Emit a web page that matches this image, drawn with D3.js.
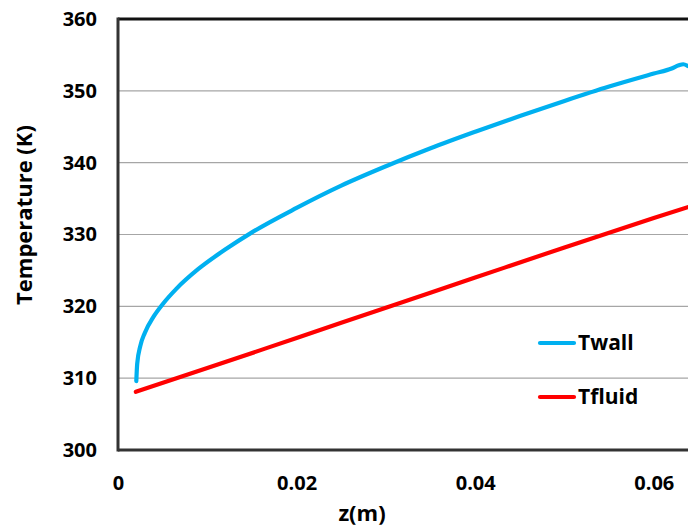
<!DOCTYPE html>
<html>
<head>
<meta charset="utf-8">
<script src="https://cdn.jsdelivr.net/npm/d3@7"></script>
<style>
  body { margin: 0; background: #fff; }
  svg text { font-family: "Open Sans", "Liberation Sans", sans-serif; font-weight: bold; fill: #000; }
</style>
</head>
<body>
<svg id="chart"></svg>
<script>
// values
const zWall = [0.00205, 0.00215, 0.0025, 0.003, 0.004, 0.005, 0.0065, 0.009, 0.012, 0.015, 0.02, 0.025, 0.03, 0.035, 0.04, 0.045, 0.05, 0.055, 0.06, 0.062, 0.0628, 0.0633, 0.0638];
const tWall = [309.6, 312.0, 314.5, 316.3, 318.6, 320.3, 322.4, 325.2, 327.9, 330.3, 333.7, 336.8, 339.5, 342.0, 344.3, 346.5, 348.6, 350.6, 352.4, 353.1, 353.55, 353.7, 353.45];
const zFluid = [0.002, 0.01, 0.02, 0.03, 0.04, 0.05, 0.06, 0.0638];
const tFluid = [308.1, 311.4, 315.6, 319.8, 324.0, 328.2, 332.3, 333.8];
const yTicks = [300, 310, 320, 330, 340, 350, 360];
const xTicks = [0, 0.02, 0.04, 0.06];
const seriesNames = ['Twall', 'Tfluid'];
const seriesColors = ['#00B0F0', '#FF0000'];

const width = 688, height = 529;
const margin = {top: 19, left: 118, bottom: 79};

const svg = d3.select('#chart')
    .attr('width', width)
    .attr('height', height);

// plot area runs past the right edge of the window, as in the original
const xScale = d3.scaleLinear().domain([0, 0.07]).range([margin.left, margin.left + 0.07 * 8930]);
const yScale = d3.scaleLinear().domain([300, 360]).range([height - margin.bottom, margin.top]);

// gridlines
svg.append('g')
  .selectAll('line')
  .data(yTicks.slice(1, -1))
  .join('line')
    .attr('x1', margin.left)
    .attr('x2', width)
    .attr('y1', d => yScale(d))
    .attr('y2', d => yScale(d))
    .attr('stroke', '#a6a6a6')
    .attr('stroke-width', 1.2);

// axes
const yAxis = d3.axisLeft(yScale).tickValues(yTicks).tickSize(0).tickPadding(21).tickFormat(d3.format('d'));
const xAxis = d3.axisBottom(xScale).tickValues(xTicks).tickSize(0).tickPadding(26).tickFormat(d => d === 0 ? '0' : d3.format('.2f')(d));

svg.append('g')
    .attr('transform', `translate(${margin.left},0)`)
    .call(yAxis)
    .call(g => g.select('.domain').remove())
    .selectAll('text')
    .style('font-size', '20px');

svg.append('g')
    .attr('transform', `translate(0,${yScale(300)})`)
    .call(xAxis)
    .call(g => g.select('.domain').remove())
    .selectAll('text')
    .style('font-size', '20px');

// plot border: top, left, bottom
svg.append('line')
    .attr('x1', margin.left).attr('x2', width)
    .attr('y1', yScale(360)).attr('y2', yScale(360))
    .attr('stroke', '#111').attr('stroke-width', 3);
svg.append('line')
    .attr('x1', margin.left).attr('x2', width)
    .attr('y1', yScale(300)).attr('y2', yScale(300))
    .attr('stroke', '#333').attr('stroke-width', 3);
svg.append('line')
    .attr('x1', margin.left).attr('x2', margin.left)
    .attr('y1', yScale(360) - 1.5).attr('y2', yScale(300) + 1.5)
    .attr('stroke', '#333').attr('stroke-width', 3);

// lines
const line = d3.line()
    .x(d => xScale(d[0]))
    .y(d => yScale(d[1]))
    .curve(d3.curveMonotoneX);

const series = [
  d3.zip(zWall, tWall),
  d3.zip(zFluid, tFluid)
];

svg.append('g')
  .selectAll('path')
  .data(series)
  .join('path')
    .attr('d', line)
    .attr('fill', 'none')
    .attr('stroke', (d, i) => seriesColors[i])
    .attr('stroke-width', 4.2)
    .attr('stroke-linecap', 'round')
    .attr('stroke-linejoin', 'round');

// axis titles
svg.append('text')
    .attr('x', 362)
    .attr('y', 521)
    .attr('text-anchor', 'middle')
    .style('font-size', '22px')
    .text('z(m)');

svg.append('text')
    .attr('transform', 'translate(32,215) rotate(-90)')
    .attr('text-anchor', 'middle')
    .style('font-size', '22px')
    .text('Temperature (K)');

// legend
const legend = svg.append('g')
  .selectAll('g')
  .data(seriesNames)
  .join('g')
    .attr('transform', (d, i) => `translate(540,${343 + i * 54})`);

legend.append('line')
    .attr('x1', 0).attr('x2', 34)
    .attr('stroke', (d, i) => seriesColors[i])
    .attr('stroke-width', 4.2)
    .attr('stroke-linecap', 'round');

legend.append('text')
    .attr('x', 38)
    .attr('dy', '0.35em')
    .style('font-size', '21px')
    .text(d => d);
</script>
</body>
</html>
